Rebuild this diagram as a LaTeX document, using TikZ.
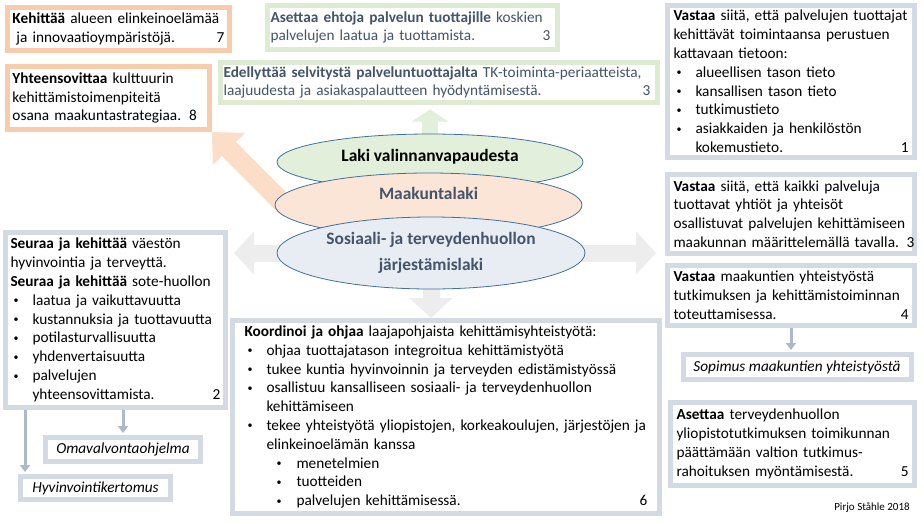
\documentclass[tikz,border=0pt]{standalone}
\usepackage{fontspec}
\setmainfont{Carlito}
\usetikzlibrary{arrows.meta,shapes.geometric,backgrounds}
\definecolor{boxblue}{HTML}{D3DAE4}
\definecolor{boxorange}{HTML}{F8CBAD}
\definecolor{boxgreen}{HTML}{DCEBD2}
\definecolor{lawgreen}{HTML}{E2EFDA}
\definecolor{laworange}{HTML}{FBE5D6}
\definecolor{lawblue}{HTML}{E8ECF3}
\definecolor{lawline}{HTML}{41719C}
\definecolor{slate}{HTML}{44546A}
\definecolor{arrowgray}{HTML}{EDEDED}
\definecolor{arroworange}{HTML}{FBDDC8}
\definecolor{linkgray}{HTML}{ADB9CA}
\newcommand{\pallo}{\raisebox{1.5pt}{\fontsize{10}{10}\selectfont\textbullet}}
\newcommand{\bul}[1]{\makebox[22pt][l]{\hspace{3pt}\pallo}#1}
\newcommand{\subbul}[1]{\hspace*{32pt}\makebox[20pt][l]{\pallo}#1}
\hyphenpenalty=10000
\exhyphenpenalty=10000
\begin{document}
\begin{tikzpicture}[x=1pt,y=-1pt,font=\fontsize{15.3}{18.8}\selectfont]
  \tikzstyle{box}=[draw,line width=5pt,fill=white,inner xsep=5pt,inner ysep=2pt,align=left]
  \tikzstyle{bluebox}=[box,draw=boxblue]
  \tikzstyle{orangebox}=[box,draw=boxorange]
  \tikzstyle{greenbox}=[box,draw=boxgreen,text=slate,inner xsep=3pt]
  \tikzstyle{law}=[ellipse,draw=lawline,line width=0.8pt,inner sep=0pt]
  \tikzstyle{lawtext}=[font=\fontsize{17.4}{26}\selectfont\bfseries,text=slate]
  \tikzstyle{bigarrow}=[line width=17pt,-{Triangle[length=20pt,width=42pt]}]
  \tikzstyle{thinarrow}=[draw=linkgray,line width=3pt,shorten >=2pt,-{Triangle[length=7pt,width=10pt]}]
  \useasboundingbox (0,0) rectangle (924,523);
  \node[orangebox,minimum height=43pt,text width=212pt] (elinkeino) at (118.5,29)
    {\textbf{Kehittää} alueen elinkeinoelämää\\\hspace*{4pt}ja innovaatioympäristöjä.\hfill 7\hspace*{5pt}};
  \node[orangebox,minimum height=63pt,text width=192pt] (kulttuuri) at (108.5,98)
    {\textbf{Yhteensovittaa} kulttuurin\\kehittämistoimenpiteitä\\osana maakuntastrategiaa.\hspace{8pt}8};
  \node[greenbox,minimum height=44pt,text width=284pt] (ehdot) at (412.5,27.5)
    {\textbf{Asettaa ehtoja palvelun tuottajille} koskien\\palvelujen laatua ja tuottamista.\hfill 3\hspace*{4pt}};
  \node[greenbox,minimum height=40pt,text width=431pt] (selvitys) at (439,82.5)
    {\textbf{Edellyttää selvitystä palveluntuottajalta} TK-toiminta-periaatteista,\\laajuudesta ja asiakaspalautteen hyödyntämisestä.\hfill 3\hspace*{4pt}};
  \node[bluebox,inner xsep=6pt,minimum height=152pt,text width=235pt] (tieto) at (791,81.5)
    {\textbf{Vastaa} siitä, että palvelujen tuottajat\\kehittävät toimintaansa perustuen\\kattavaan tietoon:\\\bul{alueellisen tason tieto}\\\bul{kansallisen tason tieto}\\\bul{tutkimustieto}\\\bul{asiakkaiden ja henkilöstön}\\\hspace*{22pt}kokemustieto.\hfill 1\hspace*{4pt}};
  \node[bluebox,inner xsep=6pt,minimum height=79pt,text width=235pt] (osallistuminen) at (791,214)
    {\textbf{Vastaa} siitä, että kaikki palveluja\\tuottavat yhtiöt ja yhteisöt\\osallistuvat palvelujen kehittämiseen\\\mbox{maakunnan määrittelemällä tavalla. 3}};
  \node[bluebox,inner xsep=6pt,minimum height=60pt,text width=235pt] (yhteistyo) at (791,295.5)
    {\textbf{Vastaa} maakuntien yhteistyöstä\\tutkimuksen ja kehittämistoiminnan\\toteuttamisessa.\hfill 4\hspace*{4pt}};
  \node[bluebox,minimum width=228pt,minimum height=25pt] (sopimus) at (797,367)
    {\itshape Sopimus maakuntien yhteistyöstä};
  \node[bluebox,inner xsep=6pt,minimum height=83pt,text width=232pt] (rahoitus) at (792.5,444)
    {\textbf{Asettaa} terveydenhuollon\\yliopistotutkimuksen toimikunnan\\päättämään valtion tutkimus-\\rahoituksen myöntämisestä.\hfill 5\hspace*{4pt}};
  \node[bluebox,minimum height=175pt,text width=210pt] (seuranta) at (115.5,320)
    {\textbf{Seuraa ja kehittää} väestön\\hyvinvointia ja terveyttä.\\\textbf{Seuraa ja kehittää} sote-huollon\\\bul{laatua ja vaikuttavuutta}\\\bul{kustannuksia ja tuottavuutta}\\\bul{potilasturvallisuutta}\\\bul{yhdenvertaisuutta}\\\bul{palvelujen}\\\hspace*{22pt}yhteensovittamista.\hfill 2\hspace*{4pt}};
  \node[bluebox,minimum width=155pt,minimum height=24pt] (omavalvonta) at (123,449.5)
    {\itshape Omavalvontaohjelma};
  \node[bluebox,minimum width=150pt,minimum height=23pt] (kertomus) at (95.5,488)
    {\itshape Hyvinvointikertomus};
  \node[bluebox,inner xsep=12pt,minimum height=193pt,text width=403pt] (koordinointi) at (446,417)
    {\textbf{Koordinoi ja ohjaa} laajapohjaista kehittämisyhteistyötä:\\\bul{ohjaa tuottajatason integroitua kehittämistyötä}\\\bul{tukee kuntia hyvinvoinnin ja terveyden edistämistyössä}\\\bul{osallistuu kansalliseen sosiaali- ja terveydenhuollon}\\\hspace*{22pt}kehittämiseen\\\bul{tekee yhteistyötä yliopistojen, korkeakoulujen, järjestöjen ja}\\\hspace*{22pt}elinkeinoelämän kanssa\\\subbul{menetelmien}\\\subbul{tuotteiden}\\\subbul{palvelujen kehittämisessä.}\hfill 6\hspace*{4pt}};
  \node[law,fill=lawgreen,minimum width=306pt,minimum height=56pt] (laki) at (430,162) {};
  \node[lawtext,text=black] (lakinimi) at ([yshift=5pt]laki.center) {Laki valinnanvapaudesta};
  \node[law,fill=laworange,minimum width=307pt,minimum height=64pt] (maak) at (428.5,205) {};
  \node[lawtext] (maaknimi) at ([yshift=12pt]maak.center) {Maakuntalaki};
  \node[law,fill=lawblue,minimum width=308pt,minimum height=72pt,lawtext,align=center] (sote) at (431,253)
    {Sosiaali- ja terveydenhuollon\\järjestämislaki};
  \node[font=\fontsize{11}{13}\selectfont] (tekija) at (872,508) {Pirjo Ståhle 2018};
  \coordinate (haara) at ([xshift=22pt]seuranta.south west);
  \draw[thinarrow] (haara) -- (haara |- kertomus.north);
  \draw[thinarrow] (seuranta.south -| omavalvonta.north) -- (omavalvonta.north);
  \draw[thinarrow] (yhteistyo.south) -- (yhteistyo.south |- sopimus.north);
  \begin{pgfonlayer}{background}
    \fill[white] (0,0) rectangle (924,523);
    \draw[bigarrow,draw=lawgreen,line width=16pt,-{Triangle[length=12pt,width=36pt]}] ([yshift=-10pt]laki.north) -- ([yshift=-4.5pt]laki.north |- selvitys.south);
    \draw[bigarrow,draw=arroworange,line width=20pt,-{Triangle[length=24pt,width=44pt]}] ([shift={(12pt,-2pt)}]maak.west) -- (kulttuuri.south east);
    \draw[bigarrow,draw=arrowgray] ([xshift=10pt]sote.west) -- ([xshift=6pt]sote.west -| seuranta.east);
    \draw[bigarrow,draw=arrowgray] ([xshift=-10pt]sote.east) -- ([xshift=-9pt]sote.east -| osallistuminen.west);
    \draw[bigarrow,draw=arrowgray] ([yshift=10pt]sote.south) -- (sote.south |- koordinointi.north);
  \end{pgfonlayer}
\end{tikzpicture}
\end{document}
